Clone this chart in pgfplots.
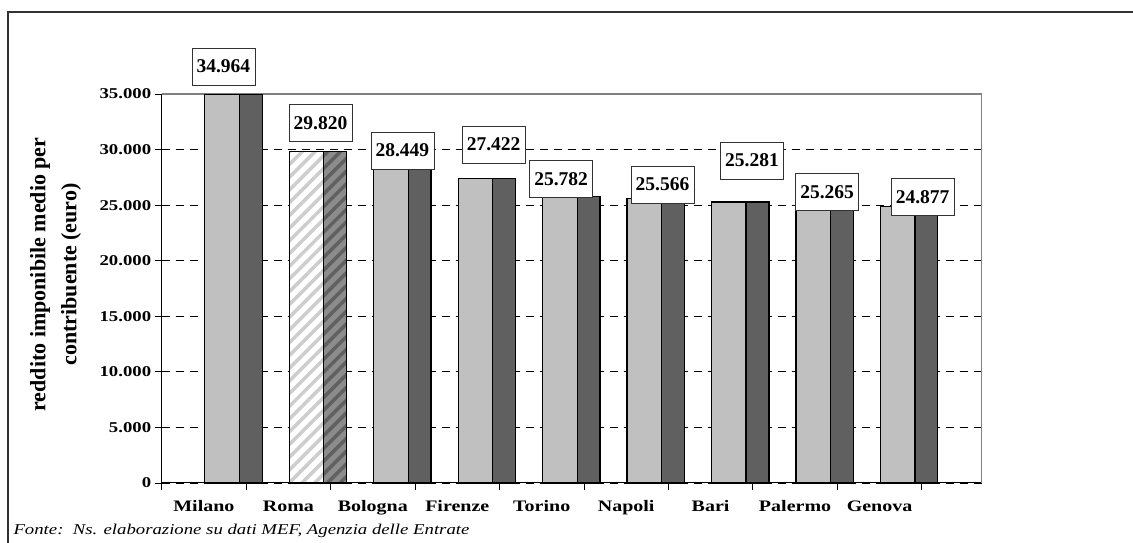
\documentclass[border=0pt]{standalone}
\usepackage{fontspec}
\setmainfont{Liberation Serif}
\newfontfamily\widefont[FakeStretch=1.25]{Liberation Serif}
\usepackage{pgfplots}
\usepackage{pgfplotstable}
\pgfplotsset{compat=1.18}
\usetikzlibrary{patterns.meta}

\definecolor{lightbar}{HTML}{C0C0C0}
\definecolor{darkbar}{HTML}{606060}
\definecolor{romadark}{HTML}{8C8C8C}
\definecolor{romastripe}{HTML}{CDCDCD}

% front faces (light) and side faces (dark), Roma apart because it is hatched
\pgfplotstableread{
x      y
0.715  34964
2.715  28449
3.715  27422
4.715  25782
5.715  25566
6.715  25281
7.715  25265
8.715  24877
}\frontbars
\pgfplotstableread{
x      y
1.055  34964
3.055  28449
4.055  27422
5.055  25782
6.055  25566
7.055  25281
8.055  25265
9.055  24877
}\sidebars
\pgfplotstableread{
x      y
1.715  29820
}\romafront
\pgfplotstableread{
x      y
2.055  29820
}\romaside
% label boxes: position, text = value
\pgfplotstableread{
x     y      label
0.73  37473  34.964
1.88  32389  29.820
2.85  29915  28.449
3.93  30455  27.422
4.73  27351  25.782
5.93  26856  25.566
6.99  29016  25.281
7.88  26181  25.265
9.01  25731  24.877
}\labels

\begin{document}
\begin{tikzpicture}[x=1pt,y=1pt]
\path[use as bounding box] (0,0) rectangle (1133,543);
\draw[line width=1.3pt, black!80] (8,0) -- (8,531) -- (1133,531);

\begin{axis}[
  at={(161.7pt,60pt)}, anchor=south west,
  scale only axis, width=820pt, height=389pt,
  xmin=0, xmax=9.71, ymin=0, ymax=35000,
  clip=false,
  axis x line*=bottom, axis y line*=left,
  x axis line style={-, line width=1pt}, y axis line style={-, line width=1pt},
  tick align=outside, major tick length=7pt,
  tick style={black, line width=0.9pt},
  xtick={0,...,9},
  xticklabels={Milano,Roma,Bologna,Firenze,Torino,Napoli,Bari,Palermo,Genova},
  x tick label as interval,
  xticklabel style={font=\fontsize{16}{18}\widefont\bfseries, yshift=-7pt},
  ytick={0,5000,...,35000},
  scaled y ticks=false,
  /pgf/number format/.cd, 1000 sep={.}, assume math mode=true, /pgfplots/.cd,
  yticklabel style={font=\fontsize{15}{17}\widefont\bfseries},
  ymajorgrids,
  grid style={black, line width=0.8pt, dash pattern=on 8pt off 6pt},
]
\draw[gray, line width=1.2pt] (rel axis cs:0,1) -- (rel axis cs:1,1) -- (rel axis cs:1,0);

\addplot[ybar, bar shift=0pt, bar width=0.41, fill=lightbar, draw=black, line width=1.2pt]
  table[x=x, y=y] {\frontbars};
\addplot[ybar, bar shift=0pt, bar width=0.27, fill=darkbar, draw=black, line width=1.2pt]
  table[x=x, y=y] {\sidebars};
\addplot[ybar, bar shift=0pt, bar width=0.41, fill=white, draw=black, line width=1.2pt,
  postaction={pattern={Lines[angle=45, distance=9pt, line width=3.5pt]}, pattern color=romastripe}]
  table[x=x, y=y] {\romafront};
\addplot[ybar, bar shift=0pt, bar width=0.27, fill=romadark, draw=black, line width=1.2pt,
  postaction={pattern={Lines[angle=45, distance=9pt, line width=3.5pt]}, pattern color=darkbar}]
  table[x=x, y=y] {\romaside};

\addplot[draw=none, nodes near coords, point meta=explicit symbolic,
  nodes near coords style={anchor=center, fill=white, draw=black!80, line width=0.6pt,
    minimum width=63pt, minimum height=37pt, inner sep=0pt,
    font=\fontsize{19.5}{21}\selectfont\bfseries}]
  table[x=x, y=y, meta=label] {\labels};
\end{axis}

\node[rotate=90, align=center, font=\fontsize{22}{31}\selectfont\bfseries]
  at (55.5,268.5) {reddito imponibile medio per\\contribuente (euro)};
\node[anchor=base west, font=\fontsize{15}{17}\widefont\itshape]
  at (10,8) {Fonte:\ \ Ns. elaborazione su dati MEF, Agenzia delle Entrate};
\end{tikzpicture}
\end{document}
